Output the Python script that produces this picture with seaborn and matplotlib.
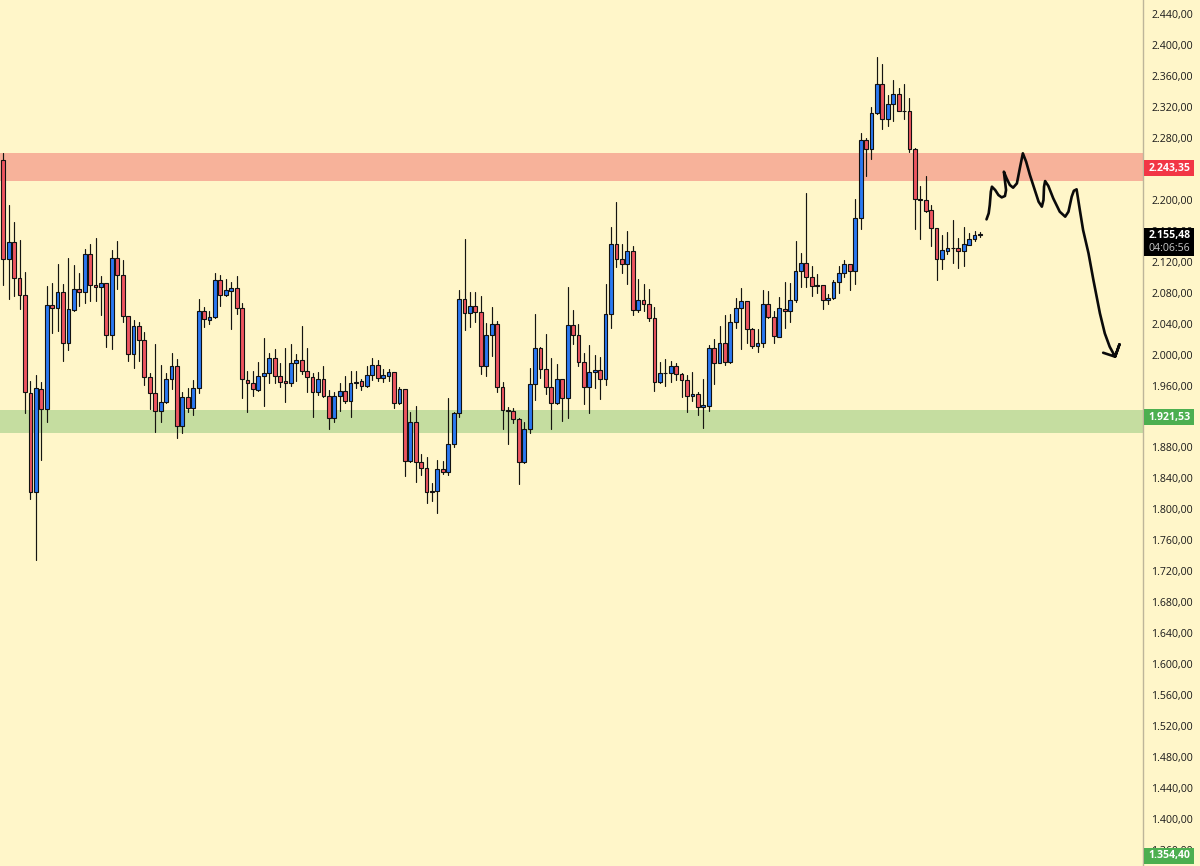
import matplotlib
matplotlib.use("Agg")
import matplotlib.pyplot as plt
from matplotlib.patches import Rectangle
from matplotlib.transforms import blended_transform_factory
import numpy as np
import pandas as pd
import seaborn as sns

# Candles: open, high, low, close
opens = [2252,2123.5,2145,2099,2077,1951,1823,1956,1930.2,2064,2060.7,2080.5,2015.4,2057.6,2084.3,2081.3,2129.6,2089.5,2087,2092,2025,2124.8,2102.4,2049.9,2000.4,2037,2018.9,1971.5,1950,1927.1,1938.3,1968,1985.7,1907.3,1945.2,1930.6,1956.9,2055.9,2045.2,2048.6,2096,2077,2082.6,2085.6,2059.8,
 1967.6,1962.9,1954.3,1972.8,1975.8,1995.2,1972.8,1965.5,1962.9,1989.1,1992.6,1978.4,1971.1,1952.1,1968,1946.5,1917.7,1946.1,1952.5,1940.5,1962.9,1965.9,1959.9,1973.6,1986.1,1970.2,1972.4,1977.1,1937,1955.1,1862.1,1912.5,1860.8,1853.9,1824.2,1824.2,1852.6,1848.7,1884.5,1924.1,2071.4,2054.2,2062.8,
 2054.6,1985.7,2024.9,2039.1,1958.6,1928.4,1926.7,1916.8,1860.8,1903.5,1961.6,2008.1,1981,1958.6,1937,1968,1943.9,2037.8,2024.9,1990,1958.6,1977.1,1979.7,1968,2052,2142.5,2123.5,2116.7,2134.3,2057.2,2070.1,2065,2047.3,1964.2,1975.8,1976.3,1985.7,1975,1966.8,1946.5,1948.7,1931.9,
 1934,2008.1,1989.2,2014.6,1990,2041.7,2059.8,2068.8,2033.1,2011.5,2015.4,2064.9,2048.6,2023.2,2059.3,2055.9,2070.1,2108,2117.9,2099.8,2089.5,2089.5,2070.1,2072.7,2093.8,2105,2116.6,
 2108,2176,2276.8,2266,2311.7,2349.1,2303.9,2323.3,2336.2,2315.1,2315.1,2266,2200.5,2199.7,2186.3,2164,2123.5,2134.2,2138.1,2137.7,2134.2,2142,2149.3,2154.5]
highs = [2260,2193.3,2171.4,2148.1,2106.3,1966,1973.7,1964.6,2088.6,2093,2117.1,2090.8,2124.4,2115.8,2105,2136.5,2143,2150.2,2101.6,2093,2134.7,2146.8,2121.8,2050,2044.7,2042.6,2029.2,1975.8,2013.3,1986.6,1975.8,2001.5,1994.3,1951.3,1956.4,1967.2,2071.9,2062,2056.3,2105,2102.9,2097.3,2094.3,2101.6,2066.3,
 1978.8,1978.8,1990.9,2021.9,2001.6,2007.2,1988.7,2008.5,2013.3,2000.8,2037,2008.5,1975.8,1977.1,1985.3,1954.3,1951.7,1962.9,1972.4,1978.8,1978.8,1968,1985.7,1995.2,1993,1981,1981,1978,1958.6,1955.1,1926.3,1933.6,1871.6,1867.3,1833.7,1863.8,1862.5,1944.4,1926.3,2083.5,2148.9,2080.9,2080.9,
 2075.3,2040.4,2062,2043.9,1965,1931.9,1930.6,1917.7,1913.4,1982.3,2052,2009.4,2026.2,1995.2,1987.4,1968,2086.9,2057.2,2039.1,2001.7,2012.4,1999.1,1996.5,2091.7,2164.5,2197.6,2142.5,2160.2,2140.3,2097.7,2090.8,2084.8,2061.1,1990.5,1994.3,1991.8,1988.7,1975.8,1973.7,1978,1952.1,1968,
 2012.4,2020.6,2037,2051.2,2052,2073.1,2085.6,2069.7,2034,2032.6,2083.5,2082.2,2056.3,2074,2093.4,2092.1,2146.8,2131.3,2208.4,2114.5,2103.7,2089.5,2077.9,2096.4,2114.5,2122.2,2116.6,
 2201,2286.7,2279.4,2320.3,2384,2375,2335.4,2354.7,2344,2349.1,2331,2267.3,2217.8,2230.7,2192.8,2164,2154.5,2158.3,2173.8,2150.2,2165.2,2157.5,2159.2,2158.8]
lows = [2090,2072.3,2075.7,2058.9,1925,1813.4,1734.6,1863.8,1913,2028.4,2030.5,1992.2,2006.4,2056.8,2063.2,2066.3,2069.3,2069.3,2051.6,2010.3,2006.8,2085.2,2042.6,1992.2,1983.1,1992.2,1960.3,1929.3,1899.6,1912.5,1938,1955.6,1892.7,1898.3,1925.4,1922.4,1950.8,2035.2,2039.6,2046.9,2062.8,2076.2,2033.1,2052,1943.5,
 1926.3,1946.5,1953.4,1934,1963.7,1962.9,1958.6,1938.8,1959.4,1966.3,1974.9,1952.1,1919.8,1947.8,1944.8,1903.9,1913.3,1927.1,1937.9,1919.8,1956.8,1954.3,1958.6,1967.2,1966.3,1964.6,1966.3,1931.4,1936.2,1843.1,1861.7,1835,1844.4,1808.7,1811.3,1794.9,1845.3,1844.4,1880.6,1919.8,2031.8,2036.1,2042.6,
 1974.5,1972.4,1998.6,1951.3,1904.3,1884.1,1911.2,1832.8,1860.4,1898.3,1941.4,1970.2,1949.1,1904.3,1935.8,1914.6,1918.5,2013.7,1985.3,1936.2,1925,1956.4,1942.6,1961.2,2034,2113.6,2105,2091.2,2051.6,2055.5,2056.8,2043.9,1953,1963.8,1959.9,1965,1967.2,1945.7,1925.9,1940,1922,1905.6,
 1927.1,1961.6,1988.7,1986.6,1988.7,2033.9,2006.8,2014.6,2008.1,2003.8,2010.2,2047.7,2014.6,2022.3,2034.8,2042.6,2068.4,2087.8,2087.8,2075.7,2079.2,2058.9,2065.4,2071.4,2080,2100.7,2083.9,
 2091.2,2162.2,2231.1,2252.7,2310.8,2291,2295.3,2301.3,2314.7,2303.9,2261.3,2162.2,2149.3,2183.7,2140.7,2096.8,2111,2129.9,2117.8,2112.3,2114.8,2141.5,2147.1,2152.3]
closes = [2123.5,2145,2098.6,2077,1951.3,1823,1956.4,1929.3,2064,2060.7,2080.5,2015.4,2058.5,2084.3,2081.3,2129.6,2089.5,2087,2092,2025,2124.8,2102.4,2049.9,2000.4,2037,2018.9,1971.5,1950,1927.1,1938.3,1968,1985.7,1907.3,1945.2,1930.6,1956.9,2055.9,2045.6,2048.6,2096.4,2077.5,2083.5,2085.6,2059.8,1968,
 1962.9,1955.1,1972.8,1975.8,1995.2,1972.8,1965,1962.9,1989.1,1992.6,1978.4,1971.5,1952.1,1968,1946.5,1917.7,1946.5,1952.5,1940.5,1962.9,1965,1959.4,1973.6,1986.1,1970.2,1973.2,1977.1,1937,1955.1,1862.1,1912.5,1861.2,1853.9,1822.9,1822.9,1852.6,1848.7,1884.5,1924.1,2071.4,2054.2,2062.8,2054.6,
 1985.7,2024.9,2039.1,1958.6,1928.4,1926.7,1916.4,1860.8,1903.5,1961.6,2008.1,1981,1958.6,1937,1968,1943.9,2037.8,2024.9,1990.5,1958.6,1977.1,1979.7,1968,2052,2142.5,2123.5,2116.7,2134.3,2057.2,2070.1,2065,2047.3,1964.2,1976.3,1976.7,1985.7,1975,1966.8,1946.5,1948.7,1931.9,1934.5,
 2008.1,1989.2,2014.6,1990,2041.7,2059.8,2068.8,2033.1,2011.5,2015.4,2064.9,2048.6,2023.6,2059.8,2055.9,2070.1,2108,2117.9,2099.8,2089.1,2089.1,2070.1,2072.7,2093.8,2105,2116.6,2108,
 2176,2277.2,2266,2311.7,2349.1,2303.9,2323.3,2336.2,2315.1,2314.7,2266,2200.5,2200.1,2185.9,2164,2123.5,2134.6,2137.7,2137.2,2134.2,2142.4,2149.7,2154,2155.5]

# Hand-drawn projection (bar index, price)
path_x = [181.2,181.6,181.8,182.0,182.2,182.8,183.4,184.0,184.6,184.8,184.4,184.9,185.5,186.1,186.8,187.4,187.9,188.5,189.2,190.1,190.8,191.4,191.7,191.8,192.0,192.6,193.5,194.7,195.7,196.3,196.9,197.3,197.8,198.4,199.0,200.0,200.9,202.1,203.0,203.9,204.9,205.7,204.9,202.7]
path_y = [2174.7,2182.5,2193.2,2210.5,2216.9,2212.6,2206.1,2203.1,2204.9,2212.6,2236.3,2227.7,2219.1,2215.6,2221.2,2242.8,2260,2249.2,2232,2212.6,2197.5,2191.1,2199.7,2216.9,2224.2,2217.8,2201.8,2184.6,2178.2,2184.6,2204,2211.7,2213.5,2186.8,2160.9,2130.8,2096.3,2053.3,2027.4,2010.2,1997.3,2013.2,1997.3,2002.4]

# Zones and price tags
resistance = (2224, 2260)
support = (1899, 1928)
price_ticks = list(range(1360, 2441, 40))
tag_resistance = 2243.35
tag_support = 1921.53
tag_current = 2155.48
tag_bottom = 1354.40
countdown = "04:06:56"

BG = "#FFF6C9"
BLUE = "#2A78F2"
RED = "#EE5560"
FONT = "Open Sans"


def fmt(v):
    return f"{v:,.2f}".replace(",", "#").replace(".", ",").replace("#", ".")


sns.set_theme(style="white", rc={"axes.facecolor": BG, "figure.facecolor": BG})
plt.rcParams["font.family"] = [FONT, "DejaVu Sans"]

fig = plt.figure(figsize=(12, 8.66), dpi=100)
ax = fig.add_axes([0, 0, 1143 / 1200, 1])

ax.axhspan(*resistance, color="#F7B29A", lw=0, zorder=1)
ax.axhspan(*support, color="#C5DDA0", lw=0, zorder=1)

idx = np.arange(len(opens))
o, h, l, c = map(np.array, (opens, highs, lows, closes))

wicks = pd.DataFrame({
    "bar": np.concatenate([idx, idx]),
    "price": np.concatenate([h, l]),
})
sns.lineplot(data=wicks, x="bar", y="price", units="bar", estimator=None,
             color="#151510", lw=0.85, ax=ax, zorder=2, legend=False)

colors = [BLUE if cc >= oo else RED for oo, cc in zip(o, c)]
ax.bar(idx, np.abs(c - o), bottom=np.minimum(o, c), width=0.7, color=colors,
       edgecolor="#111111", linewidth=0.8, zorder=3)

path = pd.DataFrame({"x": path_x, "y": path_y})
sns.lineplot(data=path, x="x", y="y", sort=False, estimator=None, color="#0A0A0A",
             lw=1.9, ax=ax, zorder=4, legend=False,
             solid_joinstyle="round", solid_capstyle="round")

ax.set_xlim(-0.608, 210.04)
ax.set_ylim(1339.3, 2458.1)
ax.set_xticks([])
ax.set_xlabel("")
ax.set_ylabel("")
ax.yaxis.tick_right()
ax.set_yticks(price_ticks, [fmt(v) for v in price_ticks])
ax.tick_params(axis="y", length=0, pad=6, labelsize=7.6, labelcolor="#1A1A1A")
for s in ("left", "top", "bottom"):
    ax.spines[s].set_visible(False)
ax.spines["right"].set_color("#BDB59A")
ax.spines["right"].set_linewidth(1.0)

trans = blended_transform_factory(ax.transAxes, ax.transData)
TAG_X0 = 1.0012
TAG_W = 0.0437
UNIT_PX = 1.292  # price units per pixel


def tag(price, color, lines, px_h=16):
    h_units = px_h * UNIT_PX
    ax.add_patch(Rectangle((TAG_X0, price - h_units / 2), TAG_W, h_units, transform=trans,
                           facecolor=color, edgecolor="none", clip_on=False, zorder=6))
    n = len(lines)
    for k, (txt, col) in enumerate(lines):
        yy = price + (n - 1 - 2 * k) * 6.6 * UNIT_PX
        ax.text(TAG_X0 + TAG_W / 2, yy, txt, transform=trans, color=col, ha="center", va="center",
                fontsize=7.6, fontweight="bold" if k == 0 else "normal", clip_on=False, zorder=7)


tag(tag_resistance - 2.5, "#F23645", [(fmt(tag_resistance), "white")])
tag(tag_support - 2.5, "#4CAF50", [(fmt(tag_support), "white")])
tag(tag_bottom - 2, "#4CAF50", [(fmt(tag_bottom), "white")])
tag(tag_current - 10, "#000000", [(fmt(tag_current), "white"), (countdown, "#C8C8C8")], px_h=28)

fig.savefig("out.png", dpi=100, facecolor=BG)
